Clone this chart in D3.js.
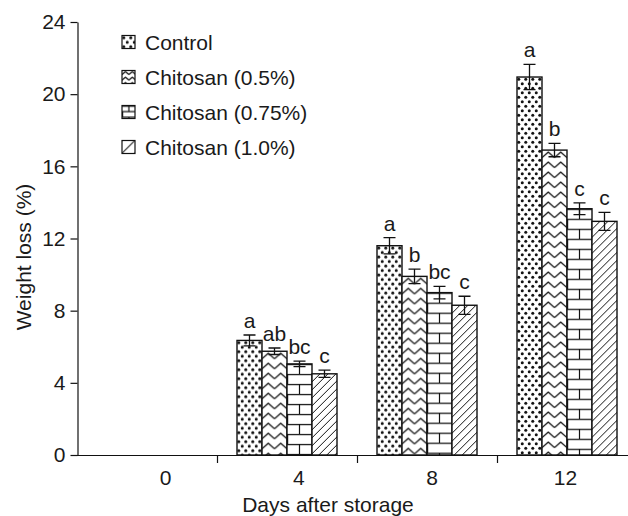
<!DOCTYPE html>
<html>
<head>
<meta charset="utf-8">
<script src="https://cdn.jsdelivr.net/npm/d3@7"></script>
<style>
  html, body { margin: 0; padding: 0; background: #fff; }
  svg { display: block; }
  text { font-family: "Liberation Sans", Arial, sans-serif; fill: #1a1a1a; }
</style>
</head>
<body>
<svg id="chart" width="628" height="516"></svg>
<script>
// ---- data ----
const days = ["0", "4", "8", "12"];
const series = ["Control", "Chitosan (0.5%)", "Chitosan (0.75%)", "Chitosan (1.0%)"];
const controlValues = [0, 6.35, 11.6, 20.95];
const chitosan05Values = [0, 5.75, 9.9, 16.9];
const chitosan075Values = [0, 5.05, 9.0, 13.65];
const chitosan10Values = [0, 4.5, 8.3, 12.95];
const controlErr = [0, 0.3, 0.45, 0.7];
const chitosan05Err = [0, 0.18, 0.4, 0.37];
const chitosan075Err = [0, 0.15, 0.35, 0.33];
const chitosan10Err = [0, 0.2, 0.5, 0.5];
const controlLetters = ["", "a", "a", "a"];
const chitosan05Letters = ["", "ab", "b", "b"];
const chitosan075Letters = ["", "bc", "bc", "c"];
const chitosan10Letters = ["", "c", "c", "c"];
const yTicks = [0, 4, 8, 12, 16, 20, 24];
const yLabel = "Weight loss (%)";
const xLabel = "Days after storage";

const valueSets = [controlValues, chitosan05Values, chitosan075Values, chitosan10Values];
const errSets = [controlErr, chitosan05Err, chitosan075Err, chitosan10Err];
const letterSets = [controlLetters, chitosan05Letters, chitosan075Letters, chitosan10Letters];
const patternKinds = ["dots", "zigzag", "bricks", "hatch"];

const table = [];
series.forEach((s, si) => {
  days.forEach((d, di) => {
    table.push({ series: s, si, day: d, value: valueSets[si][di], err: errSets[si][di], letter: letterSets[si][di] });
  });
});

const FS = 21;
const FONT = '"Liberation Sans", Arial, sans-serif';

// ---- scales ----
const svg = d3.select("#chart");
const y = d3.scaleLinear().domain([0, 24]).range([455, 22]);
const x0 = d3.scaleBand().domain(days).range([77, 637]).paddingInner(0).paddingOuter(0);
const x1 = d3.scaleBand().domain(series).range([0, x0.bandwidth()]).paddingInner(0).paddingOuter(0.8);
const xLabelScale = d3.scalePoint().domain(days).range([165, 565]);

const defs = svg.append("defs");
const ink = "#111";

function makePattern(id, kind, ox, oy, scale) {
  const k = scale || 1;
  let w, h;
  if (kind === "dots") { w = 7 * k; h = 9 * k; }
  else if (kind === "zigzag") { w = 12.5 * k; h = 10 * k; }
  else if (kind === "bricks") { w = 25 * k; h = 20 * k; }
  else { w = 8 * k; h = 8 * k; }
  const p = defs.append("pattern").attr("id", id).attr("patternUnits", "userSpaceOnUse")
    .attr("x", ox).attr("y", oy).attr("width", w).attr("height", h);
  p.append("rect").attr("width", w).attr("height", h).attr("fill", "#fff");
  if (kind === "dots") {
    p.append("circle").attr("cx", 1.75 * k).attr("cy", 2.25 * k).attr("r", 1.5).attr("fill", ink);
    p.append("circle").attr("cx", 5.25 * k).attr("cy", 6.75 * k).attr("r", 1.5).attr("fill", ink);
  } else if (kind === "zigzag") {
    p.append("path").attr("d", `M0,${7.5 * k} L${6.25 * k},${2 * k} L${12.5 * k},${7.5 * k}`)
      .attr("fill", "none").attr("stroke", ink).attr("stroke-width", 1.3).attr("stroke-linejoin", "round");
  } else if (kind === "bricks") {
    p.append("path").attr("d",
      `M0,0.6 H${w} M0,${10 * k + 0.6} H${w} M${12.5 * k},0 V${10 * k} M0.6,${10 * k} V${20 * k}`)
      .attr("fill", "none").attr("stroke", ink).attr("stroke-width", 1.2);
  } else {
    p.append("path").attr("d", `M0,${h} L${w},0 M${-w / 4},${h / 4} L${w / 4},${-h / 4} M${w * 3 / 4},${h * 5 / 4} L${w * 5 / 4},${h * 3 / 4}`)
      .attr("fill", "none").attr("stroke", ink).attr("stroke-width", 1);
  }
  return `url(#${id})`;
}

// ---- bars ----
const bars = table.filter(d => d.value > 0);
const barG = svg.append("g");
bars.forEach((d, i) => {
  const bx = x0(d.day) + x1(d.series);
  d.fill = makePattern("p" + i, patternKinds[d.si], bx, y(d.value), 1);
});
barG.selectAll("rect").data(bars).join("rect")
  .attr("x", d => x0(d.day) + x1(d.series))
  .attr("y", d => y(d.value))
  .attr("width", x1.bandwidth())
  .attr("height", d => y(0) - y(d.value))
  .attr("fill", d => d.fill)
  .attr("stroke", ink).attr("stroke-width", 1.4);

// ---- error bars ----
const errG = svg.append("g").attr("stroke", ink).attr("stroke-width", 1.3).attr("fill", "none");
bars.forEach(d => {
  const cx = x0(d.day) + x1(d.series) + x1.bandwidth() / 2;
  errG.append("path").attr("d",
    `M${cx},${y(d.value - d.err)} V${y(d.value + d.err)} M${cx - 6},${y(d.value + d.err)} H${cx + 6} M${cx - 6},${y(d.value - d.err)} H${cx + 6}`);
});

// ---- letters ----
svg.append("g").selectAll("text").data(bars.filter(d => d.letter)).join("text")
  .attr("x", d => x0(d.day) + x1(d.series) + x1.bandwidth() / 2)
  .attr("y", d => y(d.value + d.err) - 7)
  .attr("text-anchor", "middle")
  .attr("font-size", FS)
  .text(d => d.letter);

// ---- axes ----
const yAxis = d3.axisLeft(y).tickValues(yTicks).tickSize(7).tickSizeOuter(0).tickPadding(5);
const yg = svg.append("g").attr("transform", "translate(77.5,0)").call(yAxis);
yg.selectAll("text").attr("font-size", FS).attr("fill", "#1a1a1a").style("font-family", FONT);
yg.selectAll("line, path").attr("stroke", ink).attr("stroke-width", 1.2);

// x axis line and boundary ticks
const xg = svg.append("g");
xg.append("line").attr("x1", x0.range()[0]).attr("x2", x0.range()[1])
  .attr("y1", y(0) + 0.5).attr("y2", y(0) + 0.5).attr("stroke", ink).attr("stroke-width", 1.2);
xg.selectAll("line.tk").data(days.slice(1)).join("line").attr("class", "tk")
  .attr("x1", d => x0(d) + 0.5).attr("x2", d => x0(d) + 0.5)
  .attr("y1", y(0)).attr("y2", y(0) + 8)
  .attr("stroke", ink).attr("stroke-width", 1.2);

const xAxis = d3.axisBottom(xLabelScale).tickSize(0).tickPadding(15);
const xlg = svg.append("g").attr("transform", `translate(0,${y(0)})`).call(xAxis);
xlg.select(".domain").remove();
xlg.selectAll("text").attr("font-size", FS).attr("fill", "#1a1a1a").style("font-family", FONT);

// axis titles
svg.append("text").attr("x", 328).attr("y", 512).attr("text-anchor", "middle").attr("font-size", FS).text(xLabel);
svg.append("text").attr("transform", "translate(31,257) rotate(-90)").attr("text-anchor", "middle").attr("font-size", FS).text(yLabel);

// ---- legend ----
const legendY = d3.scalePoint().domain(series).range([42, 147]);
const lg = svg.append("g");
series.forEach((s, si) => {
  const ly = legendY(s);
  const fill = makePattern("lg" + si, patternKinds[si], 122, ly - 6.5, si === 0 ? 1 : (si === 3 ? 1.6 : 0.55));
  lg.append("rect").attr("x", 122).attr("y", ly - 6.5).attr("width", 13).attr("height", 13)
    .attr("fill", fill).attr("stroke", ink).attr("stroke-width", 1.2);
  lg.append("text").attr("x", 145).attr("y", ly).attr("dy", "0.36em").attr("font-size", FS).text(s);
});
</script>
</body>
</html>
